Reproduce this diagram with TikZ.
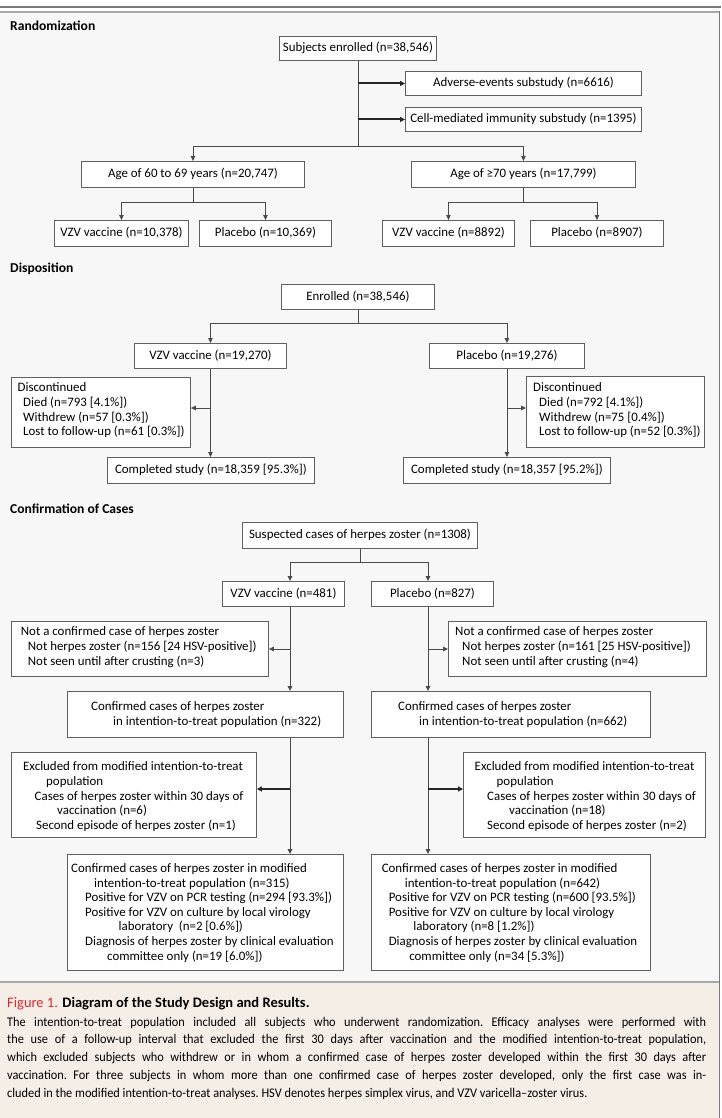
\documentclass[tikz,border=0pt]{standalone}
\usepackage{fontspec}
\setmainfont{Carlito}
\newfontfamily\capfont{Carlito}[FakeStretch=0.93]
\usetikzlibrary{arrows.meta}
\definecolor{panelbg}{HTML}{F7F7F7}
\definecolor{capbg}{HTML}{F4EEE7}
\definecolor{linegray}{HTML}{4A4A4A}
\definecolor{boxgray}{HTML}{606060}
\definecolor{figred}{HTML}{E2282D}
\definecolor{topdark}{HTML}{7A7A7A}
\definecolor{toplight}{HTML}{A8A8A8}
\newcommand\bxf{\fontsize{12.9}{14.6}\selectfont}
\begin{document}
\begin{tikzpicture}[x=1pt,y=-1pt,
  box/.style={draw=boxgray, fill=white, line width=0.9pt, inner sep=0pt, anchor=north west, font=\bxf, text height=8.7pt, text depth=2.6pt},
  txt/.style={anchor=north west, inner sep=0pt, align=left, font=\bxf},
  hdr/.style={anchor=base west, inner sep=0pt, font=\fontsize{13.6}{15}\selectfont\bfseries},
  conn/.style={draw=linegray, line width=0.9pt},
  arr/.style={conn, -{Triangle[length=5pt,width=4.5pt]}},
  barr/.style={draw=black!85, line width=1.9pt, -{Triangle[length=5pt,width=5pt]}},
  capline/.style={anchor=base west, inner sep=0pt, font=\capfont\fontsize{13.25}{15}\selectfont\frenchspacing}
]
% background and frame
\useasboundingbox (0,0) rectangle (721,1118);
\fill[white] (0,0) rectangle (721,1118);
\fill[panelbg] (0,13) rectangle (719,982);
\fill[capbg] (0,982) rectangle (719,1118);
\draw[topdark, line width=2pt] (0,7.5) -- (721,7.5);
\draw[toplight, line width=2pt] (0,12.5) -- (719,12.5);
\draw[topdark, line width=1.5pt] (719.5,11.5) -- (719.5,1118);
\draw[toplight, line width=1.5pt] (0,982) -- (719,982);

% headers
\node[hdr] (h1) at (10,31) {Randomization};
\node[hdr] (h2) at (10,272) {Disposition};
\node[hdr] (h3) at (10,513) {Confirmation of Cases};

% ---------- Randomization ----------
\node[box, minimum width=157pt, minimum height=24pt] (enr) at (279,36) {Subjects enrolled (n=38,546)};
\node[box, minimum width=236pt, minimum height=24pt] (ae) at (405,71) {Adverse-events substudy (n=6616)};
\node[box, minimum width=236pt, minimum height=24pt] (cmi) at (405,107) {Cell-mediated immunity substudy (n=1395)};
\node[box, minimum width=223pt, minimum height=26pt] (age1) at (81,161) {Age of 60 to 69 years (n=20,747)};
\node[box, minimum width=224pt, minimum height=26pt] (age2) at (411,161) {Age of ≥70 years (n=17,799)};
\node[box, minimum width=134pt, minimum height=26pt] (v1) at (54,220) {VZV vaccine (n=10,378)};
\node[box, minimum width=132pt, minimum height=26pt] (p1) at (199,220) {Placebo (n=10,369)};
\node[box, minimum width=132pt, minimum height=26pt] (v2) at (382,220) {VZV vaccine (n=8892)};
\node[box, minimum width=133pt, minimum height=26pt] (p2) at (530,220) {Placebo (n=8907)};

\draw[conn] (enr.south) -- ++(0,86) coordinate (j1);
\draw[barr] (enr.south |- ae.west) -- (ae.west);
\draw[barr] (enr.south |- cmi.west) -- (cmi.west);
\draw[arr] (j1) -| (age1.north);
\draw[arr] (j1) -| (age2.north);
\draw[conn] (age1.south) -- ++(0,14.5) coordinate (j2);
\draw[arr] (j2) -| (v1.north);
\draw[arr] (j2) -| (p1.north);
\draw[conn] (age2.south) -- ++(0,14.5) coordinate (j3);
\draw[arr] (j3) -| (v2.north);
\draw[arr] (j3) -| (p2.north);

% ---------- Disposition ----------
\node[box, minimum width=153pt, minimum height=25pt] (enr2) at (281,284) {Enrolled (n=38,546)};
\node[box, minimum width=152pt, minimum height=25pt] (vzv) at (134,343) {VZV vaccine (n=19,270)};
\node[box, minimum width=155pt, minimum height=25pt] (pla) at (429,343) {Placebo (n=19,276)};
\node[box, minimum width=179pt, minimum height=70pt] (disc1) at (11,377) {};
\node[box, minimum width=178pt, minimum height=71pt] (disc2) at (526,376) {};
\node[box, minimum width=207pt, minimum height=26pt] (comp1) at (107,457) {Completed study (n=18,359 [95.3\%])};
\node[box, minimum width=207pt, minimum height=26pt] (comp2) at (403,457) {Completed study (n=18,357 [95.2\%])};
\node[txt] (disc1t) at (17.5,381.5) {\strut Discontinued\\\hspace*{5.5pt}Died (n=793 [4.1\%])\\\hspace*{5.5pt}Withdrew (n=57 [0.3\%])\\\hspace*{5.5pt}Lost to follow-up (n=61 [0.3\%])};
\node[txt] (disc2t) at (533,381.5) {\strut Discontinued\\\hspace*{6pt}Died (n=792 [4.1\%])\\\hspace*{6pt}Withdrew (n=75 [0.4\%])\\\hspace*{6pt}Lost to follow-up (n=52 [0.3\%])};

\coordinate (yd) at (0,408);
\draw[conn] (enr2.south) -- ++(0,14) coordinate (j4);
\draw[arr] (j4) -| (vzv.north);
\draw[arr] (j4) -| (pla.north);
\draw[arr] (vzv.south) -- (vzv.south |- comp1.north);
\draw[arr] (pla.south) -- (pla.south |- comp2.north);
\draw[arr] (vzv.south |- yd) -- (disc1.east |- yd);
\draw[arr] (pla.south |- yd) -- (disc2.west |- yd);

% ---------- Confirmation of Cases ----------
\node[box, minimum width=235pt, minimum height=26pt] (susp) at (242,522) {Suspected cases of herpes zoster (n=1308)};
\node[box, minimum width=122pt, minimum height=25pt] (v481) at (222,581) {VZV vaccine (n=481)};
\node[box, minimum width=122pt, minimum height=25pt] (p827) at (371,581) {Placebo (n=827)};
\node[box, minimum width=257pt, minimum height=55pt] (nc1) at (11,621) {};
\node[box, minimum width=258pt, minimum height=55pt] (nc2) at (448,621) {};
\node[box, minimum width=276pt, minimum height=46pt] (itt1) at (67,691) {};
\node[box, minimum width=279pt, minimum height=46pt] (itt2) at (371,691) {};
\node[box, minimum width=245pt, minimum height=85pt] (ex1) at (11,752) {};
\node[box, minimum width=242pt, minimum height=85pt] (ex2) at (463,752) {};
\node[box, minimum width=276pt, minimum height=116pt] (mod1) at (67,854) {};
\node[box, minimum width=279pt, minimum height=116pt] (mod2) at (371,854) {};

\node[txt] (nc1t) at (20.7,625.5) {\strut Not a confirmed case of herpes zoster\\\hspace*{7pt}Not herpes zoster (n=156 [24 HSV-positive])\\\hspace*{7pt}Not seen until after crusting (n=3)};
\node[txt] (nc2t) at (455,625.5) {\strut Not a confirmed case of herpes zoster\\\hspace*{7pt}Not herpes zoster (n=161 [25 HSV-positive])\\\hspace*{7pt}Not seen until after crusting (n=4)};
\node[txt] (itt1t) at (91,700.5) {\strut Confirmed cases of herpes zoster\\\hspace*{22pt}in intention-to-treat population (n=322)};
\node[txt] (itt2t) at (398,700.5) {\strut Confirmed cases of herpes zoster\\\hspace*{21pt}in intention-to-treat population (n=662)};
\node[txt] (ex1t) at (23,760.5) {\strut Excluded from modified intention-to-treat\\\hspace*{23pt}population\\\hspace*{11.5pt}Cases of herpes zoster within 30 days of\\\hspace*{34pt}vaccination (n=6)\\\hspace*{13pt}Second episode of herpes zoster (n=1)};
\node[txt] (ex2t) at (474.5,760.5) {\strut Excluded from modified intention-to-treat\\\hspace*{22pt}population\\\hspace*{12.5pt}Cases of herpes zoster within 30 days of\\\hspace*{34.5pt}vaccination (n=18)\\\hspace*{12.5pt}Second episode of herpes zoster (n=2)};
\node[txt] (mod1t) at (71,862) {\strut Confirmed cases of herpes zoster in modified\\\hspace*{23pt}intention-to-treat population (n=315)\\\hspace*{14pt}Positive for VZV on PCR testing (n=294 [93.3\%])\\\hspace*{14pt}Positive for VZV on culture by local virology\\\hspace*{47.5pt}laboratory~ (n=2 [0.6\%])\\\hspace*{14pt}Diagnosis of herpes zoster by clinical evaluation\\\hspace*{36pt}committee only (n=19 [6.0\%])};
\node[txt] (mod2t) at (381.6,862) {\strut Confirmed cases of herpes zoster in modified\\\hspace*{23pt}intention-to-treat population (n=642)\\\hspace*{7pt}Positive for VZV on PCR testing (n=600 [93.5\%])\\\hspace*{7pt}Positive for VZV on culture by local virology\\\hspace*{31.5pt}laboratory (n=8 [1.2\%])\\\hspace*{7pt}Diagnosis of herpes zoster by clinical evaluation\\\hspace*{27.5pt}committee only (n=34 [5.3\%])};

\coordinate (xa) at (290,0);
\coordinate (xb) at (428,0);
\coordinate (ya) at (0,649);
\coordinate (yb) at (0,789);
\draw[conn] (susp.south) -- ++(0,14) coordinate (j5);
\draw[arr] (j5) -| (xa |- v481.north);
\draw[arr] (j5) -| (xb |- p827.north);
\draw[arr] (xa |- v481.south) -- (xa |- itt1.north);
\draw[arr] (xb |- p827.south) -- (xb |- itt2.north);
\draw[arr] (xa |- ya) -- (nc1.east |- ya);
\draw[arr] (xb |- ya) -- (nc2.west |- ya);
\draw[arr] (xa |- itt1.south) -- (xa |- mod1.north);
\draw[arr] (xb |- itt2.south) -- (xb |- mod2.north);
\draw[barr] (xa |- yb) -- (ex1.east |- yb);
\draw[barr] (xb |- yb) -- (ex2.west |- yb);

% ---------- Caption ----------
\node[anchor=base west, inner sep=0pt, font=\fontsize{14.5}{16}\selectfont] (ttl) at (7,1007) {\textcolor{figred}{Figure 1.} \textbf{Diagram of the Study Design and Results.}};
\node[capline] (c1) at (7,1026) {\makebox[699pt][s]{The intention-to-treat population included all subjects who underwent randomization. Efficacy analyses were performed with}};
\node[capline] (c2) at (7,1043.75) {\makebox[699pt][s]{the use of a follow-up interval that excluded the first 30 days after vaccination and the modified intention-to-treat population,}};
\node[capline] (c3) at (7,1061.5) {\makebox[699pt][s]{which excluded subjects who withdrew or in whom a confirmed case of herpes zoster developed within the first 30 days after}};
\node[capline] (c4) at (7,1079.25) {\makebox[699pt][s]{vaccination. For three subjects in whom more than one confirmed case of herpes zoster developed, only the first case was in-}};
\node[capline] (c5) at (7,1097) {cluded in the modified intention-to-treat analyses. HSV denotes herpes simplex virus, and VZV varicella–zoster virus.};
\end{tikzpicture}
\end{document}
